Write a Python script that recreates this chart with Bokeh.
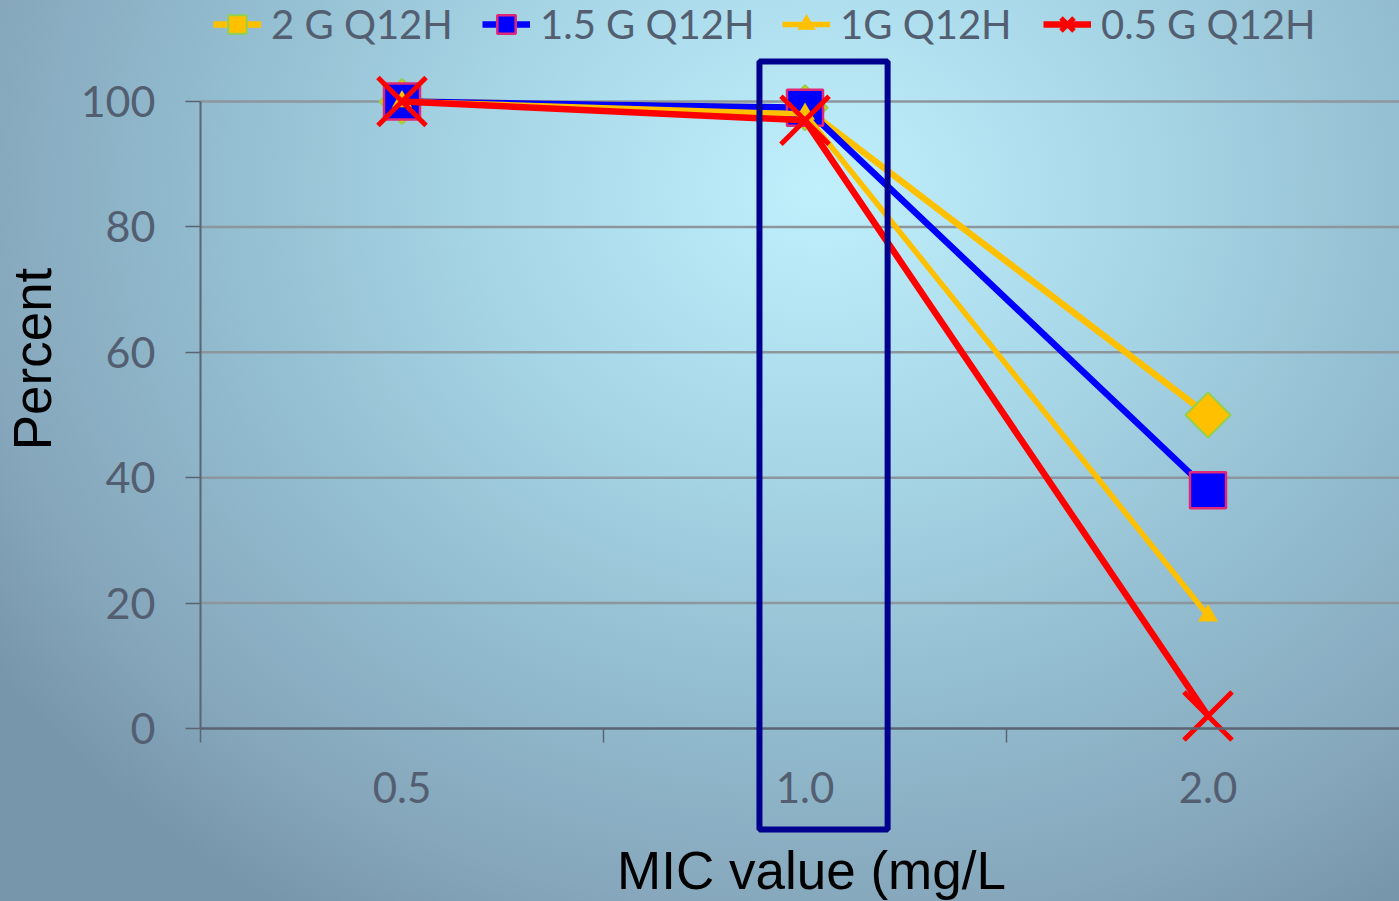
import math
from bokeh.plotting import figure
from bokeh.models import (Range1d, FixedTicker, Legend, LegendItem,
                          BoxAnnotation, Label, LinearAxis)
from bokeh.embed import file_html
from bokeh.resources import INLINE

# ---------------- data ----------------
categories = ["0.5", "1.0", "2.0"]          # MIC value (mg/L)
series_names = ["2 G Q12H", "1.5 G Q12H", "1G Q12H", "0.5 G Q12H"]
pct_2g = [100, 99, 50]
pct_15g = [100, 99, 38]
pct_1g = [100, 98, 18]
pct_05g = [100, 97, 2]
y_ticks = [0, 20, 40, 60, 80, 100]
highlight_category = "1.0"
x_title = "MIC value (mg/L"
y_title = "Percent"

# ---------------- layout constants ----------------
W, H = 1399, 901
X0_PX, Y0_PX = 200, 728        # pixel position of data origin
PX_PER_CAT = 403.0
PX_PER_PCT = 6.27

x_start = -X0_PX / PX_PER_CAT
x_end = (W - X0_PX) / PX_PER_CAT
y_start = -(H - Y0_PX) / PX_PER_PCT
y_end = Y0_PX / PX_PER_PCT

xs = [i + 0.5 for i in range(len(categories))]

TEXT_COL = "#535f71"
AXIS_COL = "#5a6473"
GRID_COL = "#8d969c"
TICK_FONT = "Lato"

bg = ("radial-gradient(ellipse 1000px 850px at 820px 190px, "
      "#c0f0fc 0%, #a9d9e9 30%, #93bdd0 60%, #86a7bc 85%, #7896ab 100%)")

p = figure(width=W, height=H, output_backend="svg", toolbar_location=None,
           x_range=Range1d(x_start, x_end), y_range=Range1d(y_start, y_end),
           x_axis_location=None, y_axis_location=None,
           min_border=0, styles={"background": bg})
p.background_fill_color = None
p.border_fill_color = None
p.outline_line_color = None
p.xgrid.visible = False
p.ygrid.visible = False

# horizontal grid lines
gy = y_ticks[1:]
p.segment(x0=[0] * len(gy), x1=[x_end] * len(gy), y0=gy, y1=gy,
          line_color=GRID_COL, line_width=2.5)

# series
r1l = p.line(xs, pct_2g, line_color="#FFC000", line_width=6.5)
r1m = p.scatter(xs, pct_2g, marker="square", size=32, angle=math.pi / 4,
                fill_color="#FFC000", line_color="#92D050", line_width=2)
r2l = p.line(xs, pct_15g, line_color="#0000FF", line_width=6.5)
r2m = p.scatter(xs, pct_15g, marker="square", size=36,
                fill_color="#0000FF", line_color="#E0287A", line_width=2.5)
r3l = p.line(xs, pct_1g, line_color="#FFC000", line_width=5.5)
r3m = p.scatter(xs, pct_1g, marker="triangle", size=20,
                fill_color="#FFC000", line_color=None)
r4l = p.line(xs, pct_05g, line_color="#FF0000", line_width=6.5)
r4m = p.scatter(xs, pct_05g, marker="x", size=68,
                line_color="#FF0000", line_width=5)

# highlight box around the chosen category
hi = categories.index(highlight_category)
box = BoxAnnotation(left=hi + 0.387, right=hi + 0.705,
                    top=(Y0_PX - 61) / PX_PER_PCT,
                    bottom=(Y0_PX - 829) / PX_PER_PCT,
                    fill_color=None, fill_alpha=0,
                    line_color="#00008f", line_alpha=1.0, line_width=6)
p.add_layout(box)

# axes
xaxis = LinearAxis(fixed_location=0, bounds=(0, x_end),
                   ticker=FixedTicker(ticks=xs, minor_ticks=list(range(len(categories)))),
                   major_label_overrides={x: c for x, c in zip(xs, categories)},
                   major_tick_out=0, major_tick_in=0,
                   minor_tick_out=14, minor_tick_in=0,
                   axis_line_color=AXIS_COL, axis_line_width=2.5,
                   minor_tick_line_color=AXIS_COL, minor_tick_line_width=1.5,
                   major_label_text_font=TICK_FONT,
                   major_label_text_font_size="42px",
                   major_label_text_color=TEXT_COL,
                   major_label_standoff=29)
p.add_layout(xaxis, "below")

yaxis = LinearAxis(fixed_location=0, bounds=(0, 100),
                   ticker=FixedTicker(ticks=y_ticks, minor_ticks=[]),
                   major_tick_out=15, major_tick_in=0,
                   minor_tick_out=0, minor_tick_in=0,
                   axis_line_color=AXIS_COL, axis_line_width=2,
                   major_tick_line_color=AXIS_COL, major_tick_line_width=1.5,
                   major_label_text_font=TICK_FONT,
                   major_label_text_font_size="43px",
                   major_label_text_color=TEXT_COL,
                   major_label_standoff=30)
p.add_layout(yaxis, "left")

# axis titles
p.add_layout(Label(x=32, y=H - 358.5, x_units="screen", y_units="screen",
                   text=y_title, angle=math.pi / 2, text_align="center",
                   text_baseline="alphabetic", text_font="Liberation Sans",
                   text_font_size="53px", text_color="black"))
p.add_layout(Label(x=811, y=H - 870, x_units="screen", y_units="screen",
                   text=x_title, text_align="center",
                   text_baseline="alphabetic", text_font="Liberation Sans",
                   text_font_size="53px", text_color="black"))

# legend: one entry per series, placed along the top
legend_x = [213, 482, 782, 1043]
for name, lr, mr, lx in zip(series_names, [r1l, r2l, r3l, r4l],
                            [r1m, r2m, r3m, r4m], legend_x):
    lg = Legend(items=[LegendItem(label=name, renderers=[lr, mr])],
                orientation="horizontal", location=(lx, H - 48),
                label_text_font=TICK_FONT, label_text_font_size="40px",
                label_text_color=TEXT_COL, glyph_width=48, glyph_height=46,
                label_standoff=10, spacing=0, padding=0, margin=0,
                background_fill_alpha=0, border_line_color=None)
    p.add_layout(lg)

open("out.html", "w").write(file_html(p, INLINE))
